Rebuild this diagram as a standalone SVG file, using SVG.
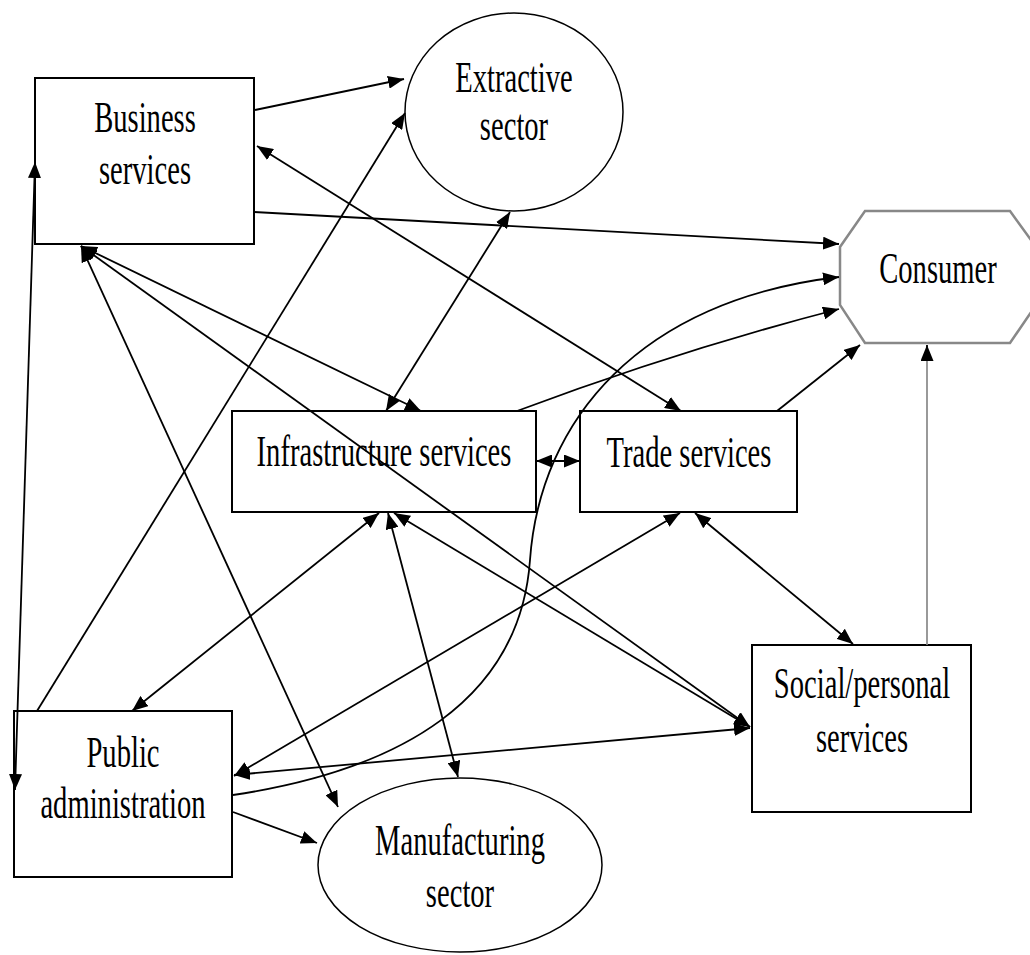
<svg xmlns="http://www.w3.org/2000/svg" width="1030" height="955" viewBox="0 0 1030 955">
<style>
.box{fill:#fff;stroke:#000;stroke-width:2}
.ell{fill:#fff;stroke:#000;stroke-width:1.5}
.oct{fill:#fff;stroke:#888;stroke-width:2.5}
.lbl{font-family:"Liberation Serif","Times New Roman",serif;font-size:44px;fill:#000;text-anchor:middle}
.c{fill:none;stroke:#000;stroke-width:1.8}
.g{fill:none;stroke:#888;stroke-width:1.7}
</style>
<defs>
<marker id="ah" viewBox="0 0 16 13" refX="16" refY="6.5" markerWidth="16" markerHeight="13" markerUnits="userSpaceOnUse" orient="auto-start-reverse"><path d="M0,0 L16,6.5 L0,13 z" fill="#000"/></marker>
</defs>
<rect width="1030" height="955" fill="#fff"/>

<g id="nodes-shapes">
<g id="business">
<rect class="box" x="35" y="78" width="219" height="166"/>
<text class="lbl" transform="translate(145,132) scale(0.65,1)">Business</text>
<text class="lbl" transform="translate(145,184) scale(0.65,1)">services</text>
</g>
<g id="extractive">
<ellipse class="ell" cx="514" cy="112" rx="109" ry="99"/>
<text class="lbl" transform="translate(514,92) scale(0.65,1)">Extractive</text>
<text class="lbl" transform="translate(514,140) scale(0.65,1)">sector</text>
</g>
<g id="consumer">
<polygon class="oct" points="865,211 1010,211 1036,247 1036,305 1010,343 865,343 840,305 840,247"/>
<text class="lbl" transform="translate(938,283) scale(0.65,1)">Consumer</text>
</g>
<g id="infrastructure">
<rect class="box" x="232" y="411" width="304" height="101"/>
<text class="lbl" transform="translate(384,466) scale(0.65,1)">Infrastructure services</text>
</g>
<g id="trade">
<rect class="box" x="580" y="411" width="217" height="101"/>
<text class="lbl" transform="translate(689,467) scale(0.65,1)">Trade services</text>
</g>
<g id="social">
<rect class="box" x="752" y="645" width="219" height="167"/>
<text class="lbl" transform="translate(862,698) scale(0.65,1)">Social/personal</text>
<text class="lbl" transform="translate(862,752) scale(0.65,1)">services</text>
</g>
<g id="public">
<rect class="box" x="14" y="711" width="218" height="166"/>
<text class="lbl" transform="translate(123,767) scale(0.65,1)">Public</text>
<text class="lbl" transform="translate(123,818) scale(0.65,1)">administration</text>
</g>
<g id="manufacturing">
<ellipse class="ell" cx="460" cy="865" rx="142" ry="87"/>
<text class="lbl" transform="translate(460,855) scale(0.65,1)">Manufacturing</text>
<text class="lbl" transform="translate(460,907) scale(0.65,1)">sector</text>
</g>
</g>

<g id="connectors">
<path class="c" d="M255,110 L404,79" marker-end="url(#ah)"/>
<path class="c" d="M37,711 L405,113" marker-end="url(#ah)"/>
<path class="c" d="M254,212 L839,244" marker-end="url(#ah)"/>
<path class="c" d="M257,146 L681,411" marker-start="url(#ah)" marker-end="url(#ah)"/>
<path class="c" d="M81,246 L421,411" marker-start="url(#ah)" marker-end="url(#ah)"/>
<path class="c" d="M81,246 L750,727" marker-start="url(#ah)" marker-end="url(#ah)"/>
<path class="c" d="M81,246 L338,807" marker-start="url(#ah)" marker-end="url(#ah)"/>
<path class="c" d="M510,212 L386,411" marker-start="url(#ah)" marker-end="url(#ah)"/>
<path class="c" d="M517,411 Q680,350 839,309" marker-end="url(#ah)"/>
<path class="c" d="M233,795 C400,770 520,700 530,560 C540,420 640,300 839,277" marker-end="url(#ah)"/>
<path class="c" d="M536,461 L580,461" marker-start="url(#ah)" marker-end="url(#ah)"/>
<path class="c" d="M777,411 L860,345" marker-end="url(#ah)"/>
<path class="g" d="M927,645 L927,359"/>
<path class="c" d="M927,360 L927,345" marker-end="url(#ah)" stroke="none"/>
<path class="c" d="M379,513 L132,711" marker-start="url(#ah)" marker-end="url(#ah)"/>
<path class="c" d="M388,513 L458,777" marker-start="url(#ah)" marker-end="url(#ah)"/>
<path class="c" d="M394,513 L750,727" marker-start="url(#ah)" marker-end="url(#ah)"/>
<path class="c" d="M680,513 L234,776" marker-start="url(#ah)" marker-end="url(#ah)"/>
<path class="c" d="M695,513 L853,644" marker-start="url(#ah)" marker-end="url(#ah)"/>
<path class="c" d="M750,728 L234,775" marker-start="url(#ah)" marker-end="url(#ah)"/>
<path class="c" d="M233,812 L317,843" marker-end="url(#ah)"/>
<path class="c" d="M35,162 L15,790" marker-start="url(#ah)" marker-end="url(#ah)"/>
</g>
</svg>
